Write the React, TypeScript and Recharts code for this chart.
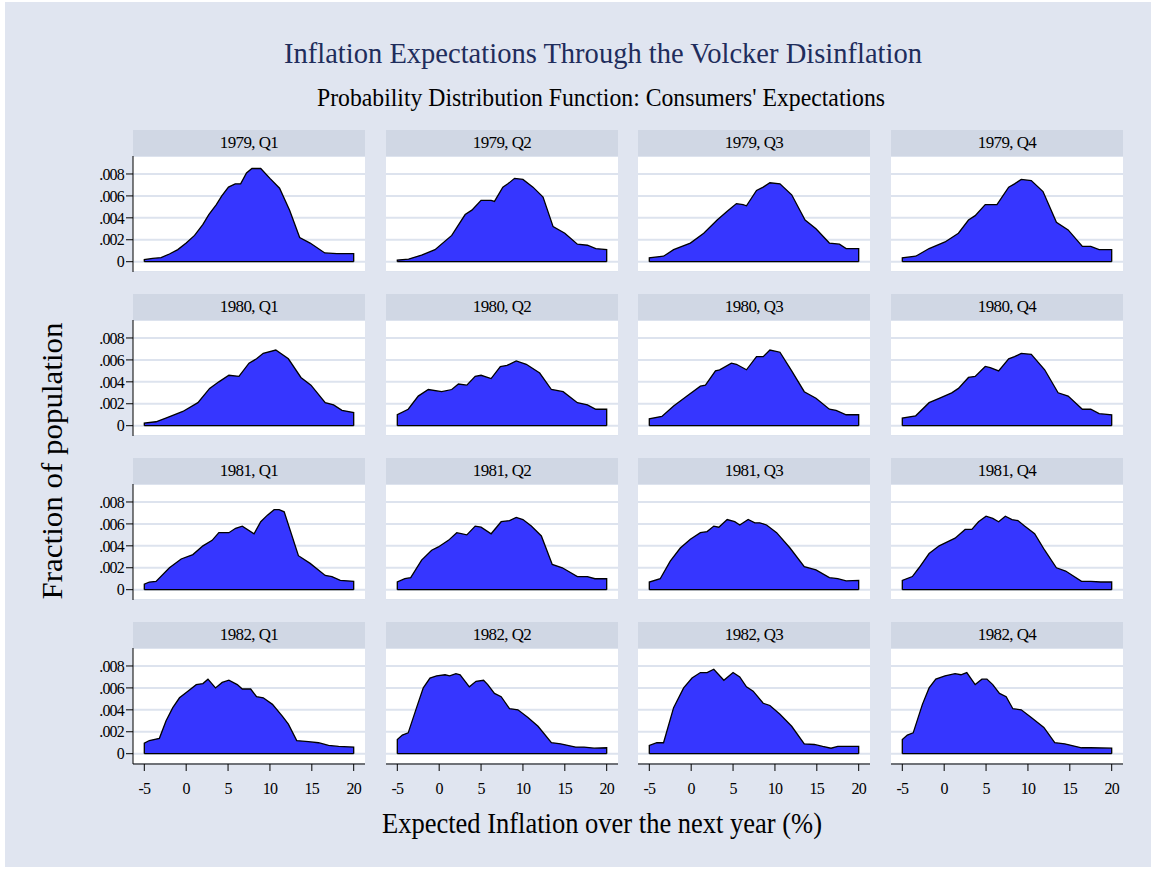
import React from "react";
import {
  AreaChart,
  Area,
  XAxis,
  YAxis,
  CartesianGrid,
  ReferenceLine,
} from "recharts";

// Each density as [expected inflation %, fraction] points
const q1979_1: [number, number][] = [
  [-5, 0.0002], [-4, 0.0003], [-3, 0.00038], [-2, 0.0007], [-1, 0.0011], [0, 0.0017],
  [1, 0.0024], [2, 0.0034], [2.7, 0.0043], [3.6, 0.0052], [4.25, 0.006], [5.05, 0.0068],
  [5.85, 0.0071], [6.5, 0.0071], [7.2, 0.0081], [7.85, 0.0085], [8.9, 0.0085], [10, 0.0076],
  [11.15, 0.0067], [12.35, 0.0047], [13.55, 0.0022], [14.8, 0.0017], [16.55, 0.0008],
  [18, 0.00073], [20, 0.00073],
];
const q1979_2: [number, number][] = [
  [-5, 0.00015], [-3.65, 0.00024], [-2.1, 0.0006], [-0.5, 0.0011], [1.5, 0.0024],
  [3.1, 0.0043], [3.9, 0.0047], [5, 0.0056], [6.2, 0.0056], [6.6, 0.0055], [7.6, 0.0068],
  [8.2, 0.0071], [9, 0.0076], [10, 0.0075], [11.2, 0.0068], [12.4, 0.0059], [13.6, 0.0032],
  [15, 0.0026], [16.5, 0.0016], [17.7, 0.0015], [18.7, 0.0012], [20, 0.0011],
];
const q1979_3: [number, number][] = [
  [-5, 0.00036], [-3.3, 0.0005], [-2.1, 0.0011], [-0.1, 0.0017], [1.5, 0.0026],
  [3.1, 0.0038], [4.3, 0.0046], [5.4, 0.0053], [6.2, 0.0052], [6.6, 0.0051], [7.8, 0.0065],
  [8.6, 0.0068], [9.4, 0.0072], [10.6, 0.0071], [12, 0.0061], [13.6, 0.0038], [14.9, 0.003],
  [16.5, 0.0017], [17.7, 0.0016], [18.5, 0.0012], [20, 0.0012],
];
const q1979_4: [number, number][] = [
  [-5, 0.00036], [-3.4, 0.0005], [-1.8, 0.0012], [0.1, 0.0018], [1.7, 0.0026],
  [2.9, 0.0038], [3.7, 0.0042], [4.9, 0.0052], [6.3, 0.0052], [7.7, 0.0068], [8.4, 0.0071],
  [9.2, 0.0075], [10.4, 0.0074], [11.8, 0.0064], [13.4, 0.0036], [14.8, 0.0029],
  [16.5, 0.0014], [17.5, 0.0014], [18.5, 0.0011], [20, 0.0011],
];
const q1980_1: [number, number][] = [
  [-5, 0.00024], [-3.6, 0.00036], [-2.2, 0.00076], [-0.4, 0.0013], [1.4, 0.0021],
  [2.8, 0.0034], [3.9, 0.004], [5.1, 0.0046], [6.3, 0.0045], [7.5, 0.0057], [8.4, 0.0061],
  [9.2, 0.0066], [10.7, 0.0069], [12.2, 0.0061], [13.7, 0.0044], [14.9, 0.0037],
  [16.6, 0.0021], [17.6, 0.0019], [18.6, 0.0014], [20, 0.0012],
];
const q1980_2: [number, number][] = [
  [-5, 0.001], [-3.7, 0.0015], [-2.5, 0.0027], [-1.3, 0.0033], [0.3, 0.0031], [1.5, 0.0033],
  [2.3, 0.0038], [3.3, 0.0037], [4.3, 0.0045], [5, 0.0046], [6.2, 0.0043], [7.3, 0.0054],
  [8.1, 0.0055], [9.2, 0.0059], [10.4, 0.0056], [12, 0.0048], [13.4, 0.0033], [14.8, 0.0031],
  [16.5, 0.0021], [17.7, 0.0019], [18.7, 0.0015], [20, 0.0015],
];
const q1980_3: [number, number][] = [
  [-5, 0.00063], [-3.5, 0.00085], [-2.1, 0.0018], [-0.5, 0.0027], [1.1, 0.0036],
  [1.7, 0.0037], [2.9, 0.005], [3.4, 0.0051], [4.8, 0.0057], [5.4, 0.0056], [6.6, 0.0051],
  [7.8, 0.0063], [8.6, 0.0063], [9.4, 0.0069], [10.6, 0.0067], [12, 0.005], [13.5, 0.0031],
  [14.9, 0.0025], [16.5, 0.0015], [17.3, 0.0014], [18.5, 0.001], [20, 0.001],
];
const q1980_4: [number, number][] = [
  [-5, 0.0007], [-3.4, 0.0009], [-1.8, 0.0021], [-0.6, 0.0025], [0.9, 0.003], [1.7, 0.0034],
  [2.9, 0.0044], [3.7, 0.0045], [4.9, 0.0054], [5.5, 0.0053], [6.5, 0.005], [7.7, 0.0061],
  [8.4, 0.0063], [9.2, 0.0066], [10.4, 0.0065], [12, 0.0051], [13.6, 0.003], [14.8, 0.0027],
  [16.5, 0.0015], [17.5, 0.0015], [18.5, 0.0011], [20, 0.001],
];
const q1981_1: [number, number][] = [
  [-5, 0.0005], [-4.4, 0.0007], [-3.6, 0.00076], [-2, 0.002], [-0.6, 0.0028], [0.8, 0.0032],
  [2, 0.004], [3.1, 0.0045], [3.9, 0.0052], [5.1, 0.0052], [5.9, 0.0056], [6.7, 0.0058],
  [8.1, 0.0051], [8.9, 0.0062], [9.7, 0.0068], [10.5, 0.0073], [11.1, 0.0073], [11.7, 0.0071],
  [13.4, 0.0031], [14.8, 0.0024], [16.6, 0.0013], [17.4, 0.0012], [18.4, 0.00085], [20, 0.00076],
];
const q1981_2: [number, number][] = [
  [-5, 0.0007], [-4.1, 0.001], [-3.4, 0.0011], [-2.1, 0.0027], [-0.9, 0.0036], [-0.1, 0.0039],
  [1.1, 0.0045], [2.1, 0.0052], [3.3, 0.005], [4.3, 0.0058], [5, 0.0057], [6.2, 0.0051],
  [7.4, 0.0062], [8.4, 0.0063], [9.2, 0.0066], [10, 0.0064], [11, 0.0058], [12.2, 0.0049],
  [13.5, 0.0023], [14.7, 0.002], [16.5, 0.0012], [17.7, 0.0012], [18.6, 0.001], [20, 0.001],
];
const q1981_3: [number, number][] = [
  [-5, 0.0007], [-3.7, 0.001], [-2.5, 0.0026], [-1.3, 0.0038], [-0.1, 0.0046], [1.1, 0.0052],
  [1.9, 0.0053], [2.7, 0.0058], [3.3, 0.0057], [4.3, 0.0064], [5.2, 0.0062], [5.8, 0.0059],
  [6.8, 0.0064], [7.6, 0.0061], [8.2, 0.0061], [9, 0.0059], [10.2, 0.0052], [11.8, 0.0038],
  [13.5, 0.0021], [14.9, 0.0018], [16.5, 0.0011], [17.5, 0.001], [18.5, 0.0008], [20, 0.00085],
];
const q1981_4: [number, number][] = [
  [-5, 0.00085], [-3.8, 0.0012], [-3, 0.002], [-1.8, 0.0033], [-0.6, 0.004], [0.5, 0.0044],
  [1.3, 0.0047], [2.5, 0.0055], [3.3, 0.0055], [4.1, 0.0062], [5, 0.0067], [5.8, 0.0065],
  [6.5, 0.0062], [7.3, 0.0067], [8.1, 0.0064], [8.8, 0.0063], [9.6, 0.0058], [10.8, 0.0051],
  [12, 0.0036], [13.4, 0.002], [14.5, 0.0017], [16.4, 0.00076], [17.5, 0.00076],
  [18.7, 0.0007], [20, 0.0007],
];
const q1982_1: [number, number][] = [
  [-5, 0.00096], [-4.4, 0.0012], [-3.2, 0.0014], [-2.4, 0.003], [-1.6, 0.0042],
  [-0.8, 0.0051], [0.2, 0.0057], [1.2, 0.0063], [2, 0.0064], [2.6, 0.0068], [3.5, 0.006],
  [4.3, 0.0065], [5.1, 0.0067], [6.1, 0.0063], [6.7, 0.0059], [7.7, 0.0059], [8.4, 0.0052],
  [9.2, 0.0051], [10.3, 0.0045], [11.5, 0.0034], [12.2, 0.0027], [13.2, 0.0012],
  [14.6, 0.0011], [15.8, 0.001], [17, 0.00075], [18.2, 0.00066], [20, 0.0006],
];
const q1982_2: [number, number][] = [
  [-5, 0.0013], [-4.4, 0.0017], [-3.7, 0.0019], [-2.7, 0.0042], [-1.9, 0.006], [-1.1, 0.0069],
  [-0.3, 0.0071], [0.7, 0.0072], [1.25, 0.0071], [2, 0.0073], [2.5, 0.0072], [3.6, 0.0061],
  [4.4, 0.0066], [5.3, 0.0067], [5.8, 0.0063], [6.6, 0.0055], [7.4, 0.0052], [8.4, 0.0041],
  [9.4, 0.004], [10.6, 0.0033], [11.8, 0.0025], [13.4, 0.001], [14.5, 0.0009],
  [16.3, 0.0006], [17.3, 0.0006], [18.5, 0.0005], [20, 0.00054],
];
const q1982_3: [number, number][] = [
  [-5, 0.00075], [-4.1, 0.001], [-3.3, 0.001], [-2.1, 0.0042], [-0.9, 0.006], [0.1, 0.0069],
  [1.1, 0.0074], [1.9, 0.0074], [2.7, 0.0077], [3.9, 0.0067], [5, 0.0074], [5.8, 0.007],
  [6.6, 0.0061], [7.4, 0.0057], [8.6, 0.0046], [9.4, 0.0044], [10.6, 0.0036], [12, 0.0025],
  [13.5, 0.0009], [14.7, 0.00084], [15.7, 0.00066], [16.7, 0.0005], [17.5, 0.00066],
  [20, 0.00066],
];
const q1982_4: [number, number][] = [
  [-5, 0.0013], [-4.4, 0.0017], [-3.7, 0.0019], [-2.6, 0.0045], [-1.8, 0.006], [-1, 0.0068],
  [0.1, 0.0071], [1.3, 0.0073], [2, 0.0072], [2.7, 0.0074], [3.7, 0.0063], [4.5, 0.0068],
  [5.1, 0.0068], [5.8, 0.0063], [6.6, 0.0055], [7.4, 0.0052], [8.2, 0.0041], [9.2, 0.004],
  [10.4, 0.0033], [11.9, 0.0024], [13.2, 0.001], [14.4, 0.0009], [16.4, 0.00054],
  [17.5, 0.00054], [20, 0.0005],
];

const PANEL_TITLES = [
  "1979, Q1", "1979, Q2", "1979, Q3", "1979, Q4",
  "1980, Q1", "1980, Q2", "1980, Q3", "1980, Q4",
  "1981, Q1", "1981, Q2", "1981, Q3", "1981, Q4",
  "1982, Q1", "1982, Q2", "1982, Q3", "1982, Q4",
];
const PANEL_SERIES = [
  q1979_1, q1979_2, q1979_3, q1979_4,
  q1980_1, q1980_2, q1980_3, q1980_4,
  q1981_1, q1981_2, q1981_3, q1981_4,
  q1982_1, q1982_2, q1982_3, q1982_4,
];
const X_TICKS = [-5, 0, 5, 10, 15, 20];
const Y_TICKS = [0, 0.002, 0.004, 0.006, 0.008];
const X_MIN = -5;
const X_MAX = 20;

const FONT = "'Liberation Serif', 'Times New Roman', serif";
const BG = "#e0e5f0";
const STRIP = "#d0d7e4";
const GRID = "#dde3ee";
const FILL = "#3636ff";

const COL_LEFT = [133, 386, 638, 891];
const ROW_TOP = [130, 294, 458, 622];
const PLOT_W = 232;
const PLOT_H = 116;
const STRIP_H = 26;
const Y_AXIS_W = 50;
const X_AXIS_H = 40;

const fmtY = (v: number) => (v === 0 ? "0" : v.toFixed(3).replace(/^0/, ""));

const Panel: React.FC<{ idx: number }> = ({ idx }) => {
  const row = Math.floor(idx / 4);
  const col = idx % 4;
  const showY = col === 0;
  const showX = row === 3;
  // close the polygon down to the baseline at both ends
  const data = [
    { x: X_MIN, y: 0 },
    ...PANEL_SERIES[idx].map(([x, y]) => ({ x, y })),
    { x: X_MAX, y: 0 },
  ];
  const tickStyle = { fontSize: 16, fill: "#000", fontFamily: FONT, letterSpacing: -0.8 };

  return (
    <>
      <div
        style={{
          position: "absolute",
          left: COL_LEFT[col],
          top: ROW_TOP[row],
          width: PLOT_W,
          height: STRIP_H,
          background: STRIP,
          textAlign: "center",
          lineHeight: `${STRIP_H}px`,
          fontFamily: FONT,
          fontSize: 17,
          letterSpacing: -0.6,
          color: "#000",
        }}
      >
        {PANEL_TITLES[idx]}
      </div>
      <div
        style={{
          position: "absolute",
          left: COL_LEFT[col] - (showY ? Y_AXIS_W : 0),
          top: ROW_TOP[row] + STRIP_H,
        }}
      >
        <AreaChart
          width={PLOT_W + (showY ? Y_AXIS_W : 0)}
          height={PLOT_H + (showX ? X_AXIS_H : 0)}
          data={data}
          margin={{ top: 0, right: 0, bottom: 0, left: 0 }}
        >
          <CartesianGrid
            vertical={false}
            fill="#ffffff"
            fillOpacity={1}
            stroke={GRID}
            strokeWidth={2}
          />
          <XAxis
            dataKey="x"
            type="number"
            domain={[-6.35, 21.35]}
            allowDataOverflow
            ticks={X_TICKS}
            hide={!showX}
            height={X_AXIS_H}
            tick={tickStyle}
            tickSize={7}
            tickMargin={12}
            stroke="#000"
            interval={0}
          />
          <YAxis
            type="number"
            domain={[-0.00094, 0.00964]}
            allowDataOverflow
            ticks={Y_TICKS}
            tickFormatter={fmtY}
            hide={!showY}
            width={Y_AXIS_W}
            tick={tickStyle}
            tickSize={7}
            tickMargin={2}
            stroke="#000"
            interval={0}
          />
          <Area
            type="linear"
            dataKey="y"
            stroke="#000"
            strokeWidth={1.3}
            fill={FILL}
            fillOpacity={1}
            baseValue={0}
            isAnimationActive={false}
            dot={false}
            activeDot={false}
          />
          <ReferenceLine
            segment={[
              { x: X_MIN, y: 0 },
              { x: X_MAX, y: 0 },
            ]}
            stroke="#000"
            strokeWidth={1.3}
          />
        </AreaChart>
      </div>
    </>
  );
};

export default function App() {
  return (
    <div
      style={{
        position: "absolute",
        left: 0,
        top: 0,
        width: 1156,
        height: 869,
        background: "#fff",
        overflow: "hidden",
      }}
    >
      <div
        style={{
          position: "absolute",
          left: 5,
          top: 2,
          width: 1146,
          height: 865,
          background: BG,
        }}
      />
      <svg
        width={1156}
        height={869}
        style={{ position: "absolute", left: 0, top: 0 }}
      >
        <text
          x={603}
          y={63}
          textAnchor="middle"
          fontFamily={FONT}
          fontSize={30}
          fill="#1f2d5c"
          textLength={638}
          lengthAdjust="spacingAndGlyphs"
        >
          Inflation Expectations Through the Volcker Disinflation
        </text>
        <text
          x={601}
          y={106}
          textAnchor="middle"
          fontFamily={FONT}
          fontSize={25}
          fill="#000"
          textLength={568}
          lengthAdjust="spacingAndGlyphs"
        >
          Probability Distribution Function: Consumers' Expectations
        </text>
        <text
          transform="translate(62,461) rotate(-90)"
          textAnchor="middle"
          fontFamily={FONT}
          fontSize={29}
          fill="#000"
          textLength={277}
          lengthAdjust="spacingAndGlyphs"
        >
          Fraction of population
        </text>
        <text
          x={602}
          y={833}
          textAnchor="middle"
          fontFamily={FONT}
          fontSize={29}
          fill="#000"
          textLength={440}
          lengthAdjust="spacingAndGlyphs"
        >
          Expected Inflation over the next year (%)
        </text>
      </svg>
      {PANEL_TITLES.map((_, i) => (
        <Panel key={i} idx={i} />
      ))}
    </div>
  );
}
